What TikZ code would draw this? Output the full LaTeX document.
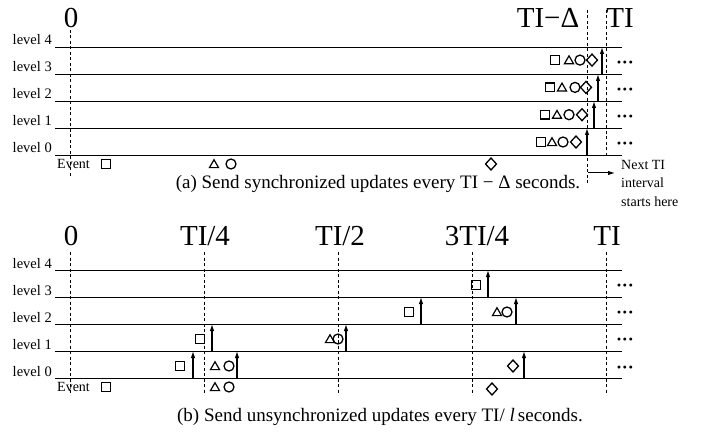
\documentclass[tikz,border=0pt]{standalone}
\usepackage{fontspec}
\setmainfont{Liberation Serif}
\usetikzlibrary{positioning, arrows.meta, shapes.geometric}

\newcommand{\bigfont}{\fontsize{29}{32}\selectfont}
\newcommand{\lvlfont}{\fontsize{14.5}{17}\selectfont}
\newcommand{\capfont}{\fontsize{19}{22}\selectfont}
\newcommand{\notefont}{\fontsize{14}{18.5}\selectfont}
\newcommand{\dotsfont}{\fontsize{18}{22}\selectfont\bfseries}

\tikzset{
  lvlline/.style={line width=0.9pt},
  tickline/.style={line width=0.8pt, dash pattern=on 3pt off 2.5pt},
  upd/.style={-{Latex[length=7pt,width=4.5pt]}, line width=1.2pt},
  evsq/.style={draw, rectangle, line width=1.3pt, minimum size=8.5pt, inner sep=0pt},
  evtri/.style={draw, regular polygon, regular polygon sides=3, line width=1.2pt, minimum size=10.5pt, inner sep=0pt},
  evcirc/.style={draw, circle, line width=1.3pt, minimum size=10pt, inner sep=0pt},
  evdia/.style={draw, diamond, line width=1.3pt, minimum width=11.5pt, minimum height=12.5pt, inner sep=0pt},
  lvltext/.style={anchor=base east, font=\lvlfont, inner sep=0pt},
  timetext/.style={anchor=base, font=\bigfont, inner sep=0pt},
  dotstext/.style={anchor=base, font=\dotsfont, inner sep=0pt},
}

\begin{document}
\begin{tikzpicture}[x=1pt, y=-1pt]
  \useasboundingbox (0,0) rectangle (702,433);

  % (a) synchronized updates
  \begin{scope}
    \foreach \i in {0,...,4} {
      \draw[lvlline] (55,{155-27*\i}) -- (622,{155-27*\i});
      \node[lvltext] (a-lvl-\i) at (52,{153-27*\i}) {level \i};
    }
    \node[timetext] (a-t0) at (71,28) {0};
    \node[timetext] (a-td) at (548,28) {TI−Δ};
    \node[timetext] (a-ti) at (620,28) {TI};
    \draw[tickline] (70,30) -- (70,178);
    \draw[tickline] (587,10) -- (587,185);
    \draw[tickline] (606,10) -- (606,155);
    \node[anchor=base west, font=\notefont, inner sep=0pt] (a-event) at (57,168) {Event};
    \node[evsq] (a-esq) at (106,164) {};
    \node[evtri] (a-etri) at (214,165) {};
    \node[evcirc] (a-ecirc) at (231,164) {};
    \node[evdia] (a-edia) at (491,164) {};
    % updates of all levels sent together
    \foreach \r/\s/\t/\c/\d/\u in {0/541/552/563/576/587, 1/545/557/569/582/594,
                                  2/550/562/575/586/598, 3/555/569/580/592/602} {
      \node[evsq] (a-sq-\r) at (\s,{142-27.3*\r}) {};
      \node[evtri] (a-tri-\r) at (\t,{143-27.3*\r}) {};
      \node[evcirc] (a-circ-\r) at (\c,{142-27.3*\r}) {};
      \node[evdia] (a-dia-\r) at (\d,{142-27.3*\r}) {};
      \draw[upd] (\u,{155-27*\r}) -- (\u,{128-27*\r});
      \node[dotstext] (a-dots-\r) at (625,{150-27.3*\r}) {···};
    }
    \node[anchor=north west, align=left, font=\notefont, inner sep=0pt] (nextti) at (621,160)
      {Next TI\\interval\\starts here};
    \coordinate (nxtail) at (588,173);
    \draw[upd, line width=1pt] (nxtail) -- ([xshift=-6pt]nxtail -| nextti.west);
    \node[font=\capfont, anchor=base, inner sep=0pt] (capa) at (378,189)
      {(a) Send synchronized updates every TI − Δ seconds.};
  \end{scope}

  % (b) unsynchronized updates
  \begin{scope}[yshift=-223pt]
    \foreach \i in {0,...,4} {
      \draw[lvlline] (55,{155-27*\i}) -- (622,{155-27*\i});
      \node[lvltext] (b-lvl-\i) at (52,{153-27*\i}) {level \i};
    }
    \foreach \x/\txt [count=\k] in {71/0, 205/{TI/4}, 340/{TI/2}, 477/{3TI/4}, 607/TI} {
      \node[timetext] (b-t\k) at (\x,22) {\txt};
    }
    \foreach \x in {70, 204, 338, 472, 606} {
      \draw[tickline] (\x,29) -- (\x,172);
    }
    \node[anchor=base west, font=\notefont, inner sep=0pt] (b-event) at (57,168) {Event};
    \node[evsq] (b-esq) at (106,164) {};
    \node[evtri] (b-etri) at (215,165) {};
    \node[evcirc] (b-ecirc) at (229,164) {};
    \node[evdia] (b-edia) at (492,166) {};
    % each level sends on its own clock
    \foreach \r/\x [count=\k] in {0/180, 1/200, 2/409, 3/476} {
      \node[evsq] (b-sq-\k) at (\x,{143-27*\r}) {};
    }
    \foreach \r/\x [count=\k] in {0/215, 1/330, 2/497} {
      \node[evtri] (b-tri-\k) at (\x,{144-27*\r}) {};
    }
    \foreach \r/\x [count=\k] in {0/229, 1/338, 2/507} {
      \node[evcirc] (b-circ-\k) at (\x,{143-27*\r}) {};
    }
    \node[evdia] (b-dia-1) at (513,143) {};
    \foreach \r/\x in {0/193, 0/237, 0/524, 1/212, 1/346, 2/421, 2/516, 3/488} {
      \draw[upd] (\x,{155-27*\r}) -- (\x,{128-27*\r});
    }
    \foreach \r in {0,...,3} {
      \node[dotstext] (b-dots-\r) at (625,{150-27.3*\r}) {···};
    }
    \node[font=\capfont, anchor=base, inner sep=0pt] (capb) at (380,198)
      {(b) Send unsynchronized updates every TI/ \textit{l}\,seconds.};
  \end{scope}
\end{tikzpicture}
\end{document}
